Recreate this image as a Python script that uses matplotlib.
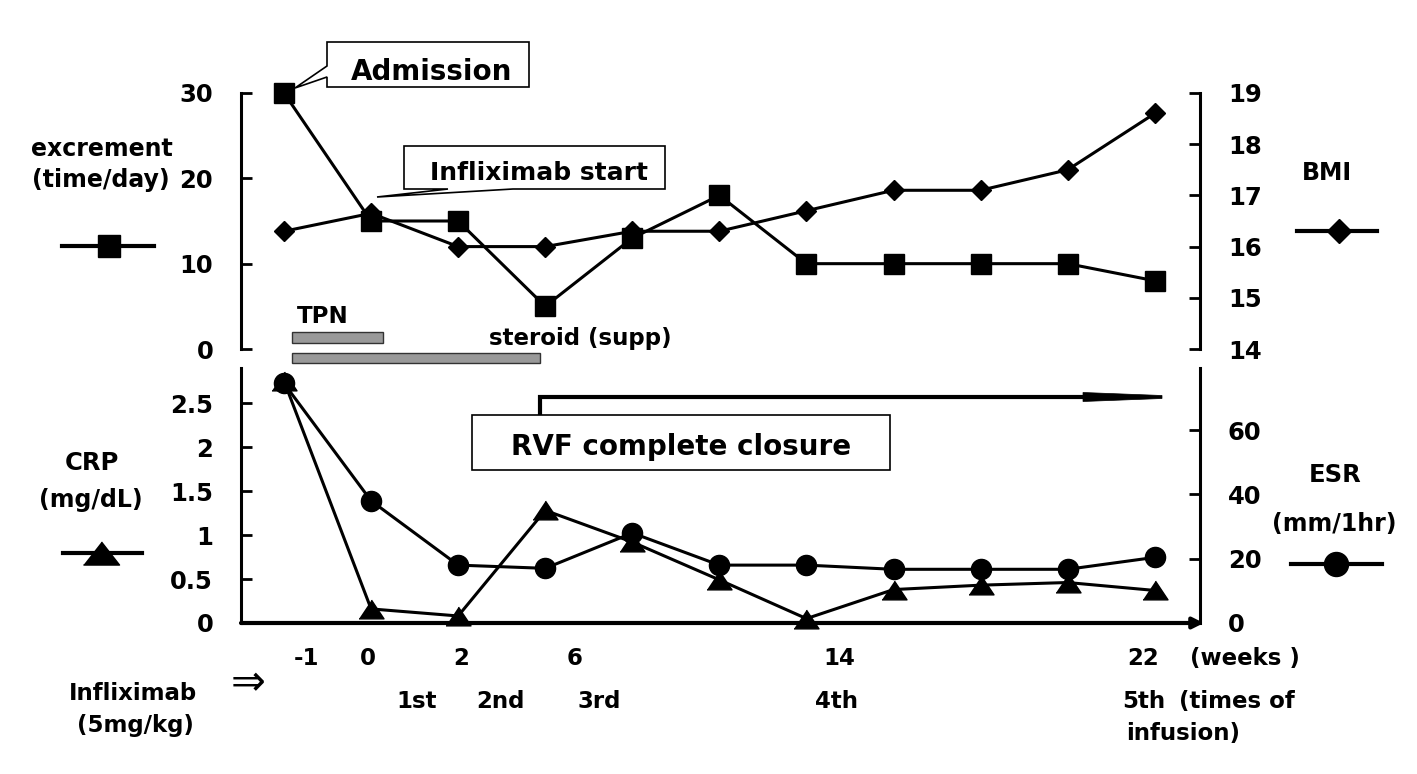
import matplotlib
matplotlib.use('Agg')
import matplotlib.pyplot as plt
from matplotlib.transforms import Affine2D, blended_transform_factory
from matplotlib.patches import Rectangle, Polygon
from matplotlib.lines import Line2D

W, H = 1417, 774
plt.rcParams['font.family'] = ['DejaVu Sans']
plt.rcParams['font.weight'] = 'bold'

# ---------------- data ----------------
visits = list(range(11))
excrement = [30, 15, 15, 5, 13, 18, 10, 10, 10, 10, 8]
bmi = [16.3, 16.65, 16.0, 16.0, 16.3, 16.3, 16.7, 17.1, 17.1, 17.5, 18.6]
crp = [2.75, 0.16, 0.08, 1.28, 0.92, 0.49, 0.05, 0.38, 0.43, 0.46, 0.37]
esr = [74.5, 38, 18, 17, 28, 18, 18, 16.7, 16.7, 16.7, 20.4]

exc_ticks = [0, 10, 20, 30]
bmi_ticks = [14, 15, 16, 17, 18, 19]
crp_ticks = [0, 0.5, 1, 1.5, 2, 2.5]
crp_ticklabels = ['0', '0.5', '1', '1.5', '2', '2.5']
esr_ticks = [0, 20, 40, 60]

week_labels = ['-1', '0', '2', '6', '14', '22']
week_pos = [0.26, 0.96, 2.03, 3.34, 6.38, 9.87]
infusion_labels = ['1st', '2nd', '3rd', '4th', '5th']
infusion_pos = [1.52, 2.48, 3.62, 6.35, 9.87]

tpn_span = [0.09, 1.14]
steroid_span = [0.09, 2.94]

# ---------------- figure ----------------
fig = plt.figure(figsize=(W / 100, H / 100), dpi=100)
px = Affine2D().scale(1.0 / W, -1.0 / H).translate(0, 1) + fig.transFigure

LW = 2.2
XL = (-0.494, 10.52)

def style_axis(ax, side):
    for s in ['top', 'bottom', 'left', 'right']:
        ax.spines[s].set_visible(False)
    ax.spines[side].set_visible(True)
    ax.spines[side].set_linewidth(2.2)
    ax.tick_params(axis='x', which='both', bottom=False, top=False,
                   labelbottom=False)
    ax.tick_params(axis='y', direction='in', length=8, width=2,
                   labelsize=17.5, pad=20,
                   left=(side == 'left'), right=(side == 'right'),
                   labelleft=(side == 'left'), labelright=(side == 'right'))
    ax.patch.set_visible(False)

# top panel
ax1 = fig.add_axes([241 / W, 1 - 349 / H, (1200 - 241) / W, 256 / H])
ax1.set_xlim(*XL)
ax1.set_ylim(0, 30)
ax1.set_yticks(exc_ticks)
style_axis(ax1, 'left')
ax1b = ax1.twinx()
ax1b.set_xlim(*XL)
ax1b.set_ylim(14, 19)
ax1b.set_yticks(bmi_ticks)
style_axis(ax1b, 'right')

ax1.plot(visits, excrement, color='black', lw=LW, marker='s', ms=15,
         zorder=3, clip_on=False)
ax1b.plot(visits, bmi, color='black', lw=LW, marker='D', ms=10.5,
          zorder=3, clip_on=False)

# treatment bars
for span, y0, y1 in [(tpn_span, 0.70, 1.99), (steroid_span, -1.64, -0.47)]:
    ax1.add_patch(Rectangle((span[0], y0), span[1] - span[0], y1 - y0,
                            facecolor='#999999', edgecolor='#333333',
                            lw=1.0, clip_on=False, zorder=2))

# bottom panel
ax2 = fig.add_axes([241 / W, 1 - 623 / H, (1200 - 241) / W, 255 / H])
ax2.set_xlim(*XL)
ax2.set_ylim(0, 2.898)
ax2.set_yticks(crp_ticks)
ax2.set_yticklabels(crp_ticklabels)
style_axis(ax2, 'left')
ax2b = ax2.twinx()
ax2b.set_xlim(*XL)
ax2b.set_ylim(0, 79.3)
ax2b.set_yticks(esr_ticks)
style_axis(ax2b, 'right')

tri = [(-1, -0.75), (1, -0.75), (0, 0.75)]
ax2.plot(visits, crp, color='black', lw=LW, marker=tri, ms=18,
         zorder=3, clip_on=False)
ax2b.plot(visits, esr, color='black', lw=LW, marker='o', ms=14.5,
          zorder=3, clip_on=False)

# x axis arrow
ax2.annotate('', xy=(1.004, 0), xytext=(0, 0), xycoords='axes fraction',
             textcoords='axes fraction',
             arrowprops=dict(arrowstyle='-|>', lw=3, color='black',
                             mutation_scale=16, shrinkA=0, shrinkB=0),
             annotation_clip=False)

# x labels
bt = blended_transform_factory(ax2.transData, px)
for lab, p in zip(week_labels, week_pos):
    fig.text(p, 665, lab, transform=bt, ha='center', va='baseline',
             fontsize=16.5)
for lab, p in zip(infusion_labels, infusion_pos):
    fig.text(p, 708, lab, transform=bt, ha='center', va='baseline',
             fontsize=16.5)

def ptext(x, y, s, size=16.5, ha='center', **kw):
    fig.text(x, y, s, transform=px, ha=ha, va='baseline', fontsize=size,
             **kw)

ptext(1245, 665, '(weeks )')
ptext(1237, 708, '(times of')
ptext(1183, 740, 'infusion)')
ptext(133, 700, 'Infliximab')
ptext(135, 732, '(5mg/kg)')
fig.text(248, 683, '\u21D2', transform=px, ha='center', va='center',
         fontsize=30, fontweight='normal')

# axis titles
ptext(102, 156, 'excrement', 17)
ptext(101, 187, '(time/day)', 17)
ptext(1327, 180, 'BMI', 17)
ptext(91.5, 470, 'CRP', 17.5)
ptext(91, 507, '(mg/dL)', 17)
ptext(1335, 482, 'ESR', 17.5)
ptext(1334, 531, '(mm/1hr)', 17)
ptext(323, 323, 'TPN', 16.5)
ptext(580, 345, 'steroid (supp)', 16.5)

# legend symbols
def legsym(x0, x1, y, xm, marker, ms):
    fig.add_artist(Line2D([x0, x1], [y, y], transform=px, color='black',
                          lw=3))
    fig.add_artist(Line2D([xm], [y], transform=px, color='black',
                          marker=marker, ms=ms, lw=0))

legsym(62, 154, 246, 109, 's', 15.5)
legsym(1297, 1377, 231, 1339, 'D', 12.7)
legsym(63, 142, 553, 101, [(-1, -0.64), (1, -0.64), (0, 0.64)], 26)
legsym(1291, 1382, 564, 1336, 'o', 17.3)

# callouts
adm = [(327, 42), (529, 42), (529, 87), (327, 87), (327, 77), (295, 88),
       (327, 66)]
fig.add_artist(Polygon(adm, closed=True, transform=px, facecolor='white',
                       edgecolor='black', lw=1.2, zorder=5))
ptext(432, 80, 'Admission', 20, zorder=6)

inf = [(404, 146), (665, 146), (665, 189), (513, 189), (377, 197),
       (448, 189), (404, 189)]
fig.add_artist(Polygon(inf, closed=True, transform=px, facecolor='white',
                       edgecolor='black', lw=1.2, zorder=5))
ptext(539, 180, 'Infliximab start', 18, zorder=6)

fig.add_artist(Rectangle((472, 415), 418, 55, transform=px,
                         facecolor='white', edgecolor='black', lw=1.2,
                         zorder=5))
ptext(681, 455, 'RVF complete closure', 20, zorder=6)

fig.add_artist(Line2D([540, 540, 1084], [415, 396.5, 396.5], transform=px,
                      color='black', lw=3, solid_joinstyle='miter'))
fig.add_artist(Polygon([(1083, 392.5), (1162, 395.5), (1162, 398.5),
                        (1083, 401.5)], closed=True, transform=px,
                       facecolor='black', edgecolor='black', lw=0.5))

fig.savefig('out.png', dpi=100)
